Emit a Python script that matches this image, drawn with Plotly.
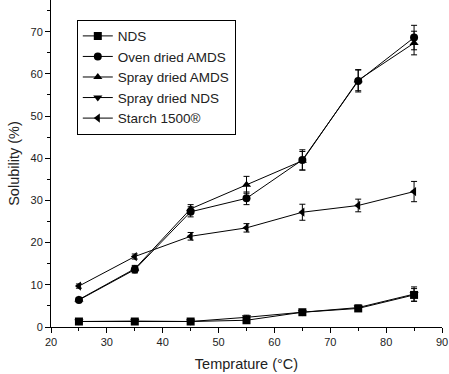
import plotly.graph_objects as go

temps = [25, 35, 45, 55, 65, 75, 85]
nds = [1.3, 1.3, 1.3, 1.6, 3.5, 4.4, 7.6]
nds_err = [0.5, 0.5, 0.4, 0.5, 0.5, 0.6, 1.5]
oven_amds = [6.4, 13.6, 27.3, 30.5, 39.6, 58.3, 68.6]
oven_amds_err = [0.5, 0.8, 1.2, 1.5, 2.4, 2.6, 2.9]
spray_amds = [6.5, 13.8, 28.0, 33.7, 39.4, 58.5, 67.3]
spray_amds_err = [0.5, 0.8, 1.0, 2.0, 2.2, 2.5, 2.8]
spray_nds = [1.3, 1.4, 1.3, 2.3, 3.5, 4.6, 7.8]
spray_nds_err = [0.5, 0.5, 0.4, 0.5, 0.5, 0.6, 1.7]
starch = [9.7, 16.7, 21.5, 23.5, 27.2, 28.8, 32.1]
starch_err = [0.5, 0.6, 0.9, 1.0, 1.9, 1.5, 2.4]

series = [
    ("NDS", nds, nds_err, "square"),
    ("Oven dried AMDS", oven_amds, oven_amds_err, "circle"),
    ("Spray dried AMDS", spray_amds, spray_amds_err, "triangle-up"),
    ("Spray dried NDS", spray_nds, spray_nds_err, "triangle-down"),
    ("Starch 1500®", starch, starch_err, "triangle-left"),
]

fig = go.Figure()
for name, vals, errs, sym in series:
    fig.add_trace(go.Scatter(
        x=temps, y=vals, name=name, mode="lines+markers",
        line=dict(color="black", width=1),
        marker=dict(symbol=sym, size=8, color="black"),
        error_y=dict(type="data", array=errs, visible=True, color="black",
                     thickness=1, width=3),
    ))

fig.update_layout(
    width=449, height=374,
    margin=dict(l=51, r=7, t=0, b=47),
    paper_bgcolor="white", plot_bgcolor="white",
    font=dict(family="Liberation Sans, Arial, sans-serif", size=11, color="#222"),
    showlegend=True,
    legend=dict(x=0.066, y=0.94, xanchor="left", yanchor="top",
                bordercolor="black", borderwidth=1, bgcolor="white",
                font=dict(size=13.5, color="#222"), tracegroupgap=0,
                itemwidth=30),
    xaxis=dict(range=[20, 90], tickvals=[20, 30, 40, 50, 60, 70, 80, 90],
               showline=True, linecolor="black", linewidth=1,
               ticks="outside", ticklen=5, tickcolor="black",
               minor=dict(ticks="outside", ticklen=3, dtick=5, tickcolor="black"),
               showgrid=False, zeroline=False,
               title=dict(text="Temprature (°C)", font=dict(size=14.5), standoff=11)),
    yaxis=dict(range=[0, 77.5], tickvals=[0, 10, 20, 30, 40, 50, 60, 70],
               showline=True, linecolor="black", linewidth=1,
               ticks="outside", ticklen=5, tickcolor="black",
               minor=dict(ticks="outside", ticklen=3, dtick=5, tickcolor="black"),
               showgrid=False, zeroline=False,
               title=dict(text="Solubility (%)", font=dict(size=14.5), standoff=7)),
)

fig.write_html("out.html")
